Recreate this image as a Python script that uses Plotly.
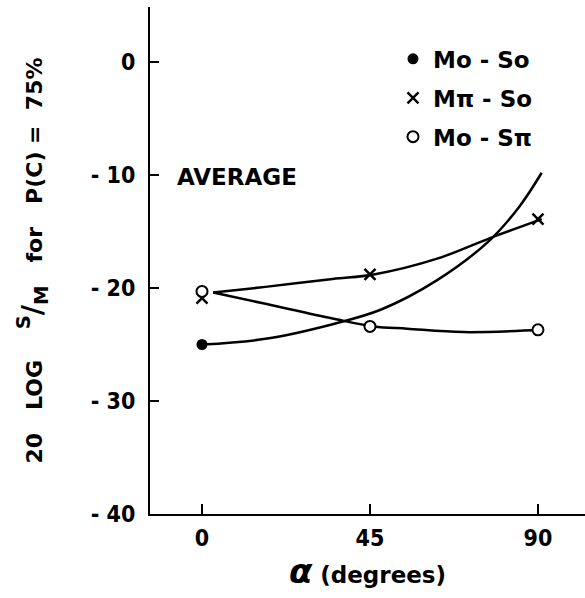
import plotly.graph_objects as go

# ---- data ----
alpha_deg = [0, 45, 90]
mpi_so_vals = [-20.9, -18.8, -13.9]       # x markers
mo_spi_vals = [-20.3, -23.4, -23.7]       # open circles
mo_so_x = [0]                              # filled dot
mo_so_vals = [-25.0]

# smooth fitted curves as drawn in the picture (read points)
mo_so_curve_x = [0, 17, 35, 48, 63, 77, 85, 91]
mo_so_curve_y = [-25.0, -24.5, -23.2, -21.9, -19.3, -15.8, -12.8, -9.8]
mpi_so_curve_x = [3, 17, 35, 46, 63, 77, 91]
mpi_so_curve_y = [-20.4, -19.9, -19.2, -18.8, -17.4, -15.6, -13.9]
mo_spi_curve_x = [3, 17, 35, 46, 55, 70, 91]
mo_spi_curve_y = [-20.4, -21.4, -22.7, -23.4, -23.6, -23.9, -23.7]

x_tickvals = [0, 45, 90]
x_ticktext = ["0", "45", "90"]
y_tickvals = [-40, -30, -20, -10, 0]
y_ticktext = ["- 40", "- 30", "- 20", "- 10", "0"]

legend_names = ["Mo - So", "M\u03c0 - So", "Mo - S\u03c0"]

BOLD_FONT = "DejaVu Sans"
NARROW = "DejaVu Sans Condensed, Liberation Sans Narrow, sans-serif"
LW = 2.5

fig = go.Figure()

for cx, cy in [(mo_so_curve_x, mo_so_curve_y),
               (mpi_so_curve_x, mpi_so_curve_y),
               (mo_spi_curve_x, mo_spi_curve_y)]:
    fig.add_trace(go.Scatter(x=cx, y=cy, mode="lines",
                             line=dict(color="black", width=LW, shape="spline", smoothing=1.0),
                             showlegend=False, hoverinfo="skip"))

fig.add_trace(go.Scatter(x=mo_so_x, y=mo_so_vals, mode="markers", name=legend_names[0],
                         legendgroup="a",
                         marker=dict(symbol="circle", size=11, color="black")))
fig.add_trace(go.Scatter(x=alpha_deg, y=mpi_so_vals, mode="markers", name=legend_names[1],
                         legendgroup="b",
                         marker=dict(symbol="x-thin", size=11, color="black",
                                     line=dict(color="black", width=2.5))))
fig.add_trace(go.Scatter(x=alpha_deg, y=mo_spi_vals, mode="markers", name=legend_names[2],
                         legendgroup="c",
                         marker=dict(symbol="circle", size=11, color="white",
                                     line=dict(color="black", width=2))))

nb = "\u00a0"
ytitle = ("20" + nb * 3 + "LOG" + nb * 4
          + "<span style='font-size:28px'><sup>S</sup>/<sub>M</sub></span>" + nb * 3 + "for"
          + nb * 3 + "P(C)" + nb + "=" + nb * 2 + "75%")

fig.update_layout(
    width=585, height=598,
    margin=dict(l=150, r=0, t=7, b=84),
    paper_bgcolor="white", plot_bgcolor="white",
    showlegend=True,
    legend=dict(x=0.5586, xanchor="left", y=0.94, yanchor="top",
                font=dict(family=BOLD_FONT, size=23, color="black", weight="bold"),
                traceorder="grouped", tracegroupgap=6,
                bgcolor="rgba(0,0,0,0)", borderwidth=0),
    xaxis=dict(range=[-13.93, 102.6], showgrid=False, zeroline=False, automargin=False,
               showline=True, linecolor="black", linewidth=2,
               ticks="inside", ticklen=10, tickwidth=2, tickcolor="black",
               tickvals=x_tickvals, ticktext=x_ticktext,
               tickfont=dict(family=NARROW, size=23, color="black", weight="bold"),
               ticklabelstandoff=2,
               title=dict(text="<span style='font-size:34px'><i>\u03b1</i></span> (degrees)",
                          font=dict(family=BOLD_FONT, size=23, color="black", weight="bold"),
                          standoff=16)),
    yaxis=dict(range=[-40, 4.87], showgrid=False, zeroline=False, automargin=False,
               showline=True, linecolor="black", linewidth=2,
               ticks="inside", ticklen=9, tickwidth=2, tickcolor="black",
               tickvals=y_tickvals, ticktext=y_ticktext,
               tickfont=dict(family=NARROW, size=23, color="black", weight="bold"),
               ticklabelstandoff=8,
               title=dict(text=ytitle,
                          font=dict(family=BOLD_FONT, size=22, color="black", weight="bold"),
                          standoff=42)),
    annotations=[dict(text="AVERAGE", x=0.057, xref="paper", y=-10.2, yref="y",
                      xanchor="left", yanchor="middle", showarrow=False,
                      font=dict(family=BOLD_FONT, size=23, color="black", weight="bold"))],
)

fig.write_html("out.html", config={"displayModeBar": False},
               post_script="document.body.style.margin='0px';")
